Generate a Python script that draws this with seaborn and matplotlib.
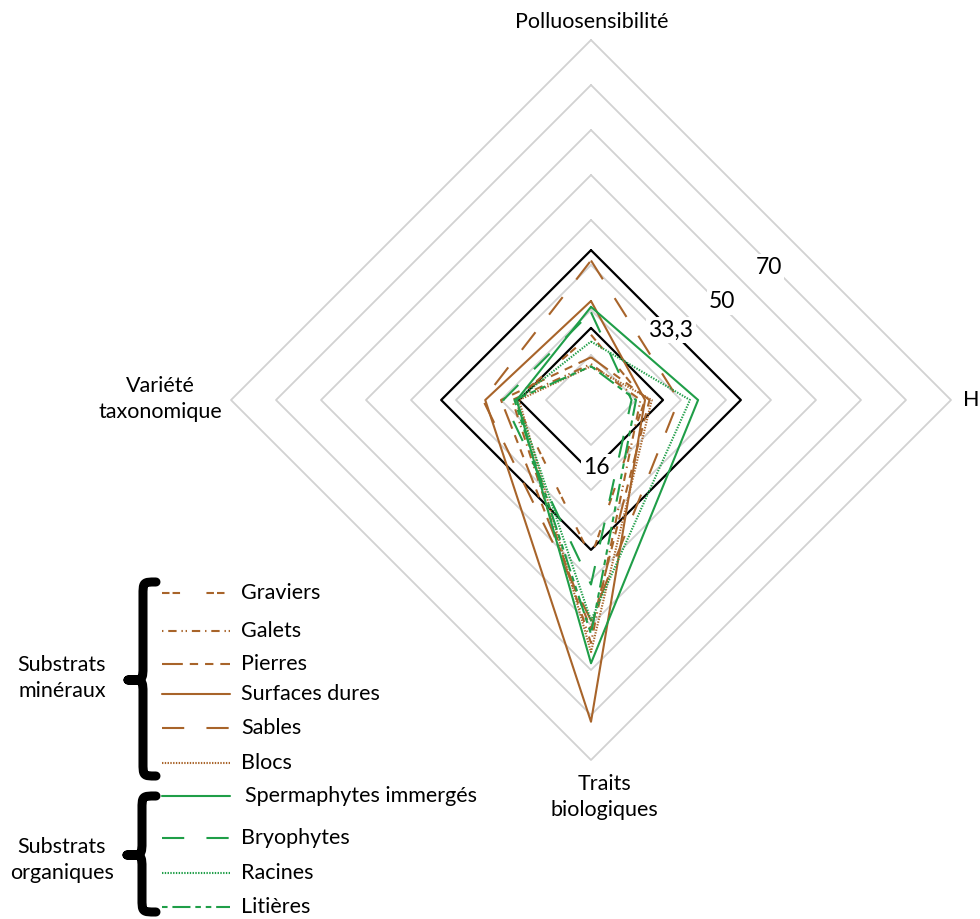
import numpy as np
import pandas as pd
import matplotlib
matplotlib.use('Agg')
import matplotlib.pyplot as plt
import seaborn as sns
from matplotlib.path import Path
from matplotlib.patches import PathPatch

# axes of the radar, clockwise from the top
categories = ['Polluosensibilité', 'H', 'Traits biologiques', 'Variété taxonomique']
axis_labels = ['Polluosensibilité', 'H', 'Traits\nbiologiques', 'Variété\ntaxonomique']

series = ['Graviers', 'Galets', 'Pierres', 'Surfaces dures', 'Sables', 'Blocs',
          'Spermaphytes immergés', 'Bryophytes', 'Racines', 'Litières']
polluosensibilite = [14.5, 8, 9.5, 22, 31, 7.5, 20.7, 19.5, 13, 7.5]
h_values = [12, 11, 13, 12, 19.5, 13.5, 23.8, 9, 22, 10]
traits_biologiques = [35, 54, 51, 71.5, 49, 56, 58.5, 41, 49, 52]
variete_taxonomique = [17, 17.5, 20, 23.5, 24, 16, 16.5, 19.5, 16.5, 17]

reference_levels = [33.3, 16]
grid_levels = [10, 20, 30, 40, 50, 60, 70, 80]
scale_labels = ['16', '33,3', '50', '70']
groups = ['Substrats\nminéraux', 'Substrats\norganiques']

brown = '#A8642A'
green = '#1F9E48'
colors = [brown] * 6 + [green] * 4
styles = [(0, (5.4, 2.2, 5.4, 19)),
          (0, (1, 3.5, 6, 3.5, 1, 2, 1, 3.5, 6, 3.5)),
          (0, (15, 5, 6, 5, 6, 5)),
          '-',
          (0, (16, 16)),
          (0, (1, 1)),
          '-',
          (0, (16, 16)),
          (0, (1, 1)),
          (0, (4, 3.5, 13, 3.5, 4, 3.5))]

sns.set_theme(style='white')
plt.rcParams['font.family'] = ['Lato', 'DejaVu Sans']
plt.rcParams['text.color'] = 'black'
plt.rcParams['lines.scale_dashes'] = False

angles = np.deg2rad([90, 0, -90, 180])


def to_xy(vals):
    vals = list(vals) + [vals[0]]
    a = list(angles) + [angles[0]]
    return np.array(vals) * np.cos(a), np.array(vals) * np.sin(a)


rows = []
for i, name in enumerate(series):
    vals = [polluosensibilite[i], h_values[i], traits_biologiques[i], variete_taxonomique[i]]
    xs, ys = to_xy(vals)
    for k, (x, y) in enumerate(zip(xs, ys)):
        rows.append({'serie': name, 'ordre': k, 'x': x, 'y': y})
df = pd.DataFrame(rows)

fig = plt.figure(figsize=(9.8, 9.19), dpi=100)
ax = fig.add_axes([0, 0, 1, 1])
px = 4.5  # pixels per unit
cx, cy = 591, 400
ax.set_xlim(-cx / px, (980 - cx) / px)
ax.set_ylim(-(919 - cy) / px, cy / px)
ax.set_axis_off()

# grille en losanges
for g in grid_levels:
    gx, gy = to_xy([g] * 4)
    ax.plot(gx, gy, color='#d2d2d2', lw=1.3, zorder=1)

for r in reference_levels:
    rx, ry = to_xy([r] * 4)
    ax.plot(rx, ry, color='black', lw=1.6, zorder=2)

for i, name in enumerate(series):
    sub = df[df['serie'] == name]
    sns.lineplot(data=sub, x='x', y='y', sort=False, estimator=None, ax=ax,
                 color=colors[i], linestyle=styles[i], lw=1.5, legend=False, zorder=3)
ax.set_axis_off()

# overlay en pixels pour textes et légende
ov = fig.add_axes([0, 0, 1, 1], zorder=5)
ov.set_xlim(0, 980)
ov.set_ylim(919, 0)
ov.set_axis_off()
ov.patch.set_alpha(0)

fs = 15.5
lab_pos = [(592, 22, 'center'), (963, 400, 'left'), (604, 797, 'center'), (160, 399, 'center')]
for (x, y, ha), t in zip(lab_pos, axis_labels):
    ov.text(x, y, t, ha=ha, va='center', fontsize=fs, linespacing=1.4)

scale_pos = [(596, 467), (671, 330), (722, 302), (769, 267)]
for (x, y), t in zip(scale_pos, scale_labels):
    ov.text(x, y, t, ha='center', va='center', fontsize=16.5,
            bbox=dict(facecolor='white', edgecolor='none', pad=1.5))

# légende
leg_y = [593, 631, 664, 694, 728, 763, 796, 838, 873, 907]
for i, name in enumerate(series):
    ov.plot([162, 230], [leg_y[i], leg_y[i]], color=colors[i], linestyle=styles[i], lw=1.5)
    ov.text(241 if i != 6 else 245, leg_y[i], name, ha='left', va='center', fontsize=fs)


def brace(x_tip, x_stem, x_end, y_top, y_mid, y_bot, r=14):
    verts = [(x_end, y_top), (x_stem, y_top), (x_stem, y_top), (x_stem, y_top + r),
             (x_stem, y_mid - r), (x_stem, y_mid), (x_stem, y_mid), (x_tip, y_mid),
             (x_stem, y_mid), (x_stem, y_mid), (x_stem, y_mid + r),
             (x_stem, y_bot - r), (x_stem, y_bot), (x_stem, y_bot), (x_end, y_bot)]
    codes = [Path.MOVETO, Path.CURVE4, Path.CURVE4, Path.CURVE4,
             Path.LINETO, Path.CURVE4, Path.CURVE4, Path.CURVE4,
             Path.CURVE4, Path.CURVE4, Path.CURVE4,
             Path.LINETO, Path.CURVE4, Path.CURVE4, Path.CURVE4]
    ov.add_patch(PathPatch(Path(verts, codes), fill=False, lw=6.5, color='black',
                           capstyle='round', joinstyle='round'))


brace(128, 143, 156, 582, 680, 776)
brace(127, 142, 156, 796, 855, 912)
ov.text(62, 678, groups[0], ha='center', va='center', fontsize=fs, linespacing=1.4)
ov.text(62, 860, groups[1], ha='center', va='center', fontsize=fs, linespacing=1.4)

fig.savefig('out.png', dpi=100)
